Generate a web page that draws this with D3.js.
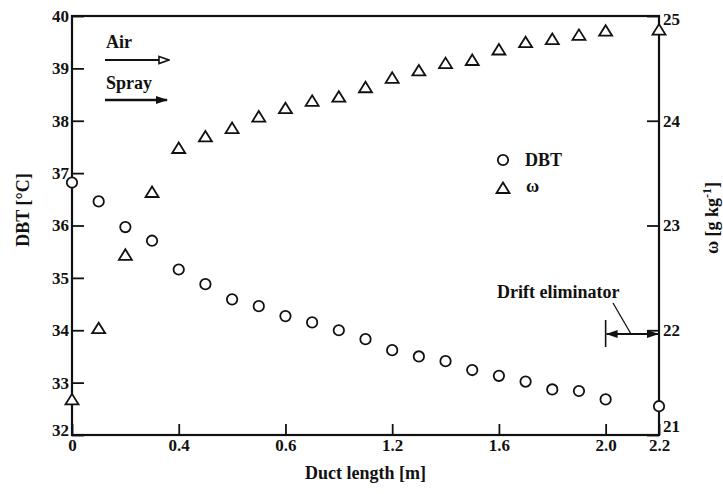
<!DOCTYPE html>
<html>
<head>
<meta charset="utf-8">
<script src="https://cdn.jsdelivr.net/npm/d3@7"></script>
<style>
  body { margin: 0; background: #fff; }
  svg text { font-family: "Liberation Serif", "DejaVu Serif", serif; font-weight: bold; fill: #111; }
</style>
</head>
<body>
<svg id="chart" width="723" height="494"></svg>
<script>
// duct positions (m)
const ductX = [0, 0.1, 0.2, 0.3, 0.4, 0.5, 0.6, 0.7, 0.8, 0.9, 1.0, 1.1, 1.2, 1.3, 1.4, 1.5, 1.6, 1.7, 1.8, 1.9, 2.0, 2.2];
// dry bulb temperature (°C)
const dbt = [36.82, 36.46, 35.97, 35.71, 35.16, 34.88, 34.59, 34.46, 34.27, 34.15, 34.0, 33.83, 33.62, 33.5, 33.41, 33.24, 33.13, 33.02, 32.87, 32.84, 32.68, 32.55];
// humidity ratio (g/kg)
const omega = [21.34, 22.02, 22.72, 23.32, 23.74, 23.85, 23.93, 24.04, 24.12, 24.19, 24.23, 24.32, 24.41, 24.48, 24.55, 24.58, 24.68, 24.75, 24.78, 24.82, 24.86, 24.87];

const xTicks = [0, 0.4, 0.8, 1.2, 1.6, 2.0, 2.2];
const xTickLabels = ["0", "0.4", "0.6", "1.2", "1.6", "2.0", "2.2"];
const leftTicks = [32, 33, 34, 35, 36, 37, 38, 39, 40];
const rightTicks = [21, 22, 23, 24, 25];

const svg = d3.select('#chart');
const L = 72, R = 659, T = 16, B = 435;

const x = d3.scaleLinear().domain([0, 2.2]).range([L, R]);
const yL = d3.scaleLinear().domain([32, 40]).range([B, T]);
const yR = d3.scaleLinear().domain([21, 25]).range([B, T]);

// arrow heads
const defs = svg.append('defs');
defs.append('marker').attr('id', 'openHead')
    .attr('viewBox', '0 0 12 10').attr('refX', 11).attr('refY', 5)
    .attr('markerWidth', 12).attr('markerHeight', 10).attr('markerUnits', 'userSpaceOnUse')
    .attr('orient', 'auto')
  .append('path').attr('d', 'M1,1.5 L11,5 L1,8.5 Z')
    .attr('fill', '#fff').attr('stroke', '#111').attr('stroke-width', 1.6);
defs.append('marker').attr('id', 'fillHead')
    .attr('viewBox', '0 0 12 10').attr('refX', 11).attr('refY', 5)
    .attr('markerWidth', 12).attr('markerHeight', 10).attr('markerUnits', 'userSpaceOnUse')
    .attr('orient', 'auto-start-reverse')
  .append('path').attr('d', 'M0,1 L12,5 L0,9 Z').attr('fill', '#111');

// axes (ticks point inward)
const styleAxis = g => {
    g.select('.domain').remove();
    g.selectAll('.tick line').attr('stroke', '#111').attr('stroke-width', 1.8);
    g.selectAll('.tick text').attr('font-size', 17).attr('fill', '#111')
        .attr('font-family', '"Liberation Serif", serif').attr('font-weight', 'bold');
};

svg.append('g').attr('transform', `translate(${L},0)`)
    .call(d3.axisLeft(yL).tickValues(leftTicks).tickSize(-12).tickPadding(3).tickFormat(d3.format('d')))
    .call(styleAxis)
    .selectAll('.tick text').attr('dy', d => d === 32 ? '0' : '0.32em');

const rAxis = svg.append('g').attr('transform', `translate(${R},0)`)
    .call(d3.axisRight(yR).tickValues(rightTicks).tickSize(-12).tickPadding(4).tickFormat(d3.format('d')))
    .call(styleAxis);
// end labels sit inside the frame, as in the original
rAxis.selectAll('.tick text').attr('dy', d => d === 21 ? '-0.2em' : d === 25 ? '0.5em' : '0.32em');

svg.append('g').attr('transform', `translate(0,${B})`)
    .call(d3.axisBottom(x).tickValues(xTicks).tickSize(-11).tickPadding(4)
        .tickFormat((d, i) => xTickLabels[i]))
    .call(styleAxis);

// frame
svg.append('rect').attr('x', L).attr('y', T).attr('width', R - L).attr('height', B - T)
    .attr('fill', 'none').attr('stroke', '#111').attr('stroke-width', 2.2);

// axis titles
svg.append('text').attr('transform', 'translate(29,210) rotate(-90)')
    .attr('text-anchor', 'middle').attr('font-size', 18).text('DBT [°C]');

const rt = svg.append('text').attr('transform', 'translate(718,218) rotate(-90)')
    .attr('text-anchor', 'middle').attr('font-size', 18);
rt.append('tspan').text('ω [g kg');
rt.append('tspan').attr('dy', -7).attr('font-size', 12).text('-1');
rt.append('tspan').attr('dy', 7).text(']');

svg.append('text').attr('x', (L + R) / 2).attr('y', 479)
    .attr('text-anchor', 'middle').attr('font-size', 18).text('Duct length [m]');

// flow arrows
svg.append('text').attr('x', 106).attr('y', 48).attr('font-size', 18).text('Air');
svg.append('line').attr('x1', 105).attr('y1', 60).attr('x2', 169).attr('y2', 60)
    .attr('stroke', '#111').attr('stroke-width', 2).attr('marker-end', 'url(#openHead)');
svg.append('text').attr('x', 106).attr('y', 89).attr('font-size', 18).text('Spray');
svg.append('line').attr('x1', 105).attr('y1', 100).attr('x2', 167).attr('y2', 100)
    .attr('stroke', '#111').attr('stroke-width', 2.4).attr('marker-end', 'url(#fillHead)');

// drift eliminator annotation
svg.append('text').attr('x', 497).attr('y', 298).attr('font-size', 18).text('Drift eliminator');
svg.append('line').attr('x1', x(2.0)).attr('y1', 320).attr('x2', x(2.0)).attr('y2', 347)
    .attr('stroke', '#111').attr('stroke-width', 1.6);
svg.append('line').attr('x1', x(2.0) + 1).attr('y1', 334).attr('x2', R - 1).attr('y2', 334)
    .attr('stroke', '#111').attr('stroke-width', 1.8)
    .attr('marker-start', 'url(#fillHead)').attr('marker-end', 'url(#fillHead)');
svg.append('line').attr('x1', 613).attr('y1', 303).attr('x2', 631).attr('y2', 334)
    .attr('stroke', '#111').attr('stroke-width', 1.3);

// open triangle centred on its bounding box
const triPath = 'M0,-5.5L6.5,5L-6.5,5Z';

svg.append('g').selectAll('path').data(ductX).join('path')
    .attr('d', triPath)
    .attr('transform', (d, i) => `translate(${x(d)},${yR(omega[i])})`)
    .attr('fill', '#fff').attr('stroke', '#111').attr('stroke-width', 1.8);

svg.append('g').selectAll('circle').data(ductX).join('circle')
    .attr('cx', d => x(d)).attr('cy', (d, i) => yL(dbt[i])).attr('r', 5.2)
    .attr('fill', '#fff').attr('stroke', '#111').attr('stroke-width', 1.8);

// legend
const lg = svg.append('g');
lg.append('circle').attr('cx', 503).attr('cy', 160).attr('r', 5.2)
    .attr('fill', '#fff').attr('stroke', '#111').attr('stroke-width', 1.8);
lg.append('text').attr('x', 525).attr('y', 166).attr('font-size', 18).text('DBT');
lg.append('path').attr('d', triPath).attr('transform', 'translate(503,188)')
    .attr('fill', '#fff').attr('stroke', '#111').attr('stroke-width', 1.8);
lg.append('text').attr('x', 526).attr('y', 192).attr('font-size', 18).text('ω');
</script>
</body>
</html>
